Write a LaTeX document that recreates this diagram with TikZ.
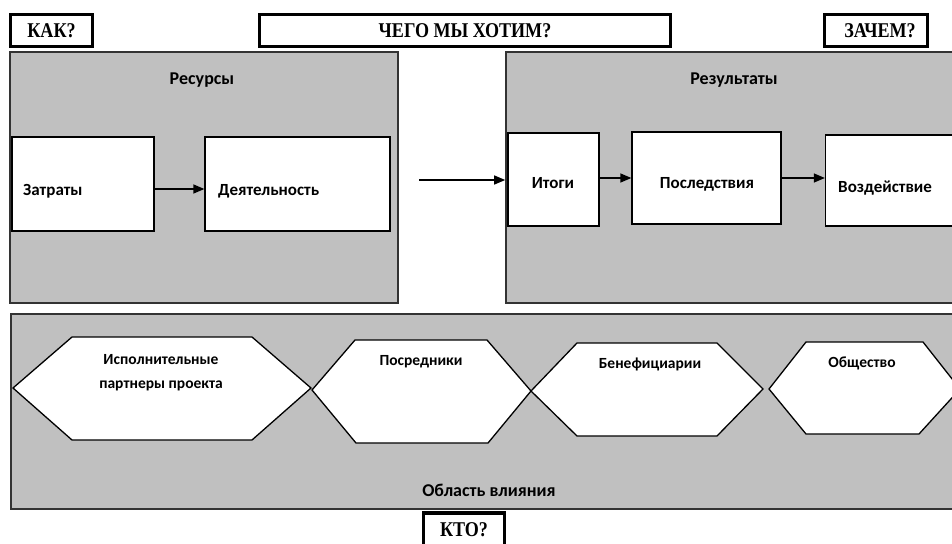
\documentclass[tikz,border=0pt]{standalone}
\usepackage{fontspec}
\setmainfont{Carlito}
\newfontfamily\qfont[FakeStretch=0.86]{Liberation Serif}
\usetikzlibrary{arrows.meta}
\definecolor{panelgray}{HTML}{C0C0C0}
\begin{document}
\begin{tikzpicture}[x=1pt,y=-1pt,
  panel/.style={draw=black!80, line width=1.6pt, fill=panelgray, inner sep=0pt},
  box/.style={draw=black, line width=1.3pt, fill=white, inner sep=0pt},
  qbox/.style={draw=black, line width=3.2pt, fill=white, inner sep=0pt, font=\qfont\bfseries\fontsize{21}{21}\selectfont},
  arr/.style={-{Triangle[length=11pt,width=9pt]}, line width=1.3pt},
  hexs/.style={draw=black, line width=1.3pt, fill=white},
  ttl/.style={font=\bfseries\fontsize{18}{20}\selectfont, inner sep=0pt},
  lbl/.style={font=\bfseries\fontsize{17}{19}\selectfont, inner sep=0pt},
  hlbl/.style={font=\bfseries\fontsize{15.5}{24}\selectfont, inner sep=0pt, align=center}]
\clip (0,0) rectangle (952,543);
\useasboundingbox (0,0) rectangle (952,543);
\fill[white] (0,0) rectangle (952,543);

% question boxes
\node[qbox, minimum width=82, minimum height=32] (kak) at (51.5,30.5) {КАК?};
\node[qbox, minimum width=411, minimum height=32] (chego) at (465,30.5) {ЧЕГО МЫ ХОТИМ?};
\node[qbox, minimum width=103, minimum height=32] (zachem) at (876,30.5) {\hspace*{8pt}ЗАЧЕМ?};

% panels
\node[panel, minimum width=388, minimum height=251] (res) at (204,177.5) {};
\node[panel, minimum width=459, minimum height=251] (rez) at (735.5,177.5) {};
\node[panel, minimum width=954, minimum height=195] (obl) at (488,411.5) {};

\node[qbox, minimum width=81, minimum height=34] (kto) at (464,530) {КТО?};

\node[ttl] (tres) at (202,80) {Ресурсы};
\node[ttl] (trez) at (734,80) {Результаты};
\node[ttl] (tobl) at (489,490) {Область влияния};

% inner boxes
\node[box, minimum width=142, minimum height=94] (zat) at (83,184) {};
\node[box, minimum width=185, minimum height=94] (dey) at (297.5,184) {};
\node[box, minimum width=91, minimum height=93] (ito) at (553.5,179.5) {};
\node[box, minimum width=149, minimum height=92] (pos) at (706.5,178) {};
\node[box, minimum width=149, minimum height=91] (voz) at (900,180.5) {};

\node[lbl, anchor=west] (tzat) at (23,191) {Затраты};
\node[lbl, anchor=west] (tdey) at (218,191) {Деятельность};
\node[lbl] (tito) at (553,183) {Итоги};
\node[lbl] (tpos) at (707,184) {Последствия};
\node[lbl, anchor=west] (tvoz) at (838,188) {Воздействие};

% arrows
\draw[arr] ([yshift=-5pt]zat.east) -- ([yshift=-5pt]zat.east -| dey.west);
\coordinate (astart) at (419,180);
\draw[arr] (astart) -- (astart -| rez.west);
\draw[arr] ([yshift=1.5pt]ito.east) -- ([yshift=1.5pt]ito.east -| pos.west);
\draw[arr] (pos.east) -- (pos.east -| voz.west);

% hexagons
\draw[hexs] (13,388) -- (72,337) -- (252,337) -- (311,388) -- (252,440) -- (72,440) -- cycle;
\draw[hexs] (312,390) -- (355,340) -- (487,340) -- (531,391) -- (488,443) -- (356,443) -- cycle;
\draw[hexs] (531,391) -- (577,343) -- (717,343) -- (763,389) -- (717,436) -- (577,436) -- cycle;
\draw[hexs] (769,389) -- (806,342) -- (923,342) -- (960,389) -- (919,434) -- (806,434) -- cycle;

\node[hlbl] (h1) at (161,373) {Исполнительные\\партнеры проекта};
\node[hlbl] (h2) at (421,362) {Посредники};
\node[hlbl] (h3) at (650,364) {Бенефициарии};
\node[hlbl] (h4) at (862,363) {Общество};
\end{tikzpicture}
\end{document}
